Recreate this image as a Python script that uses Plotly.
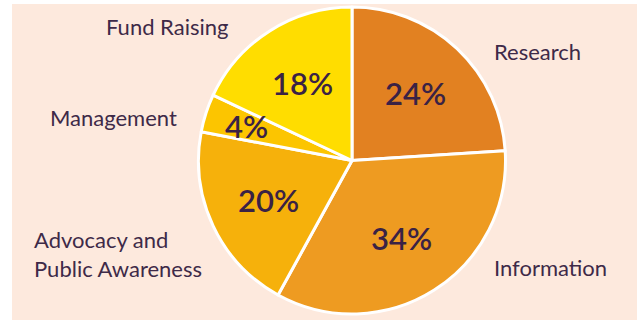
import math
import plotly.graph_objects as go

categories = ["Research", "Information", "Advocacy and<br>Public Awareness", "Management", "Fund Raising"]
values = [24, 34, 20, 4, 18]
colors = ["#E28121", "#EE9B21", "#F6B10B", "#FCC500", "#FFDD00"]

W, H = 637, 320
BG = "#FDE9DD"
TXT = "#3E2A48"

# pie geometry (pixels)
PX0, PX1, PY0, PY1 = 197, 507, 7, 314
CX, CY = (PX0 + PX1) / 2, (PY0 + PY1) / 2
R = (PY1 - PY0) / 2

fig = go.Figure()
fig.add_trace(go.Pie(
    labels=categories,
    values=values,
    sort=False,
    direction="clockwise",
    rotation=0,
    marker=dict(colors=colors, line=dict(color="white", width=3)),
    textinfo="none",
    hoverinfo="label+percent",
    showlegend=False,
    domain=dict(x=[PX0 / W, PX1 / W], y=[1 - PY1 / H, 1 - PY0 / H]),
))

# percentage labels placed at each slice's mid-angle
radius_frac = [0.6, 0.6, 0.6, 0.72, 0.6]
total = sum(values)
cum = 0
for v, f in zip(values, radius_frac):
    mid = (cum + v / 2) / total * 2 * math.pi
    cum += v
    px = CX + R * f * math.sin(mid)
    py = CY - R * f * math.cos(mid)
    fig.add_annotation(
        x=px / W, y=1 - py / H, xref="paper", yref="paper",
        text=f"{v}%", showarrow=False, xanchor="center", yanchor="middle",
        font=dict(family="Lato, Liberation Sans, sans-serif", size=31, color="#3A2245", weight=600),
    )

# category label placements (pixel positions in the panel)
label_pos = {
    "Research": (492, 51),
    "Information": (492, 267),
    "Advocacy and<br>Public Awareness": (32, 254),
    "Management": (48, 117),
    "Fund Raising": (104, 27),
}
for cat in categories:
    px, py = label_pos[cat]
    fig.add_annotation(
        x=px / W, y=1 - py / H, xref="paper", yref="paper",
        text=cat, showarrow=False, xanchor="left", yanchor="middle", align="left",
        font=dict(family="Lato, sans-serif", size=22, color=TXT),
    )

fig.update_layout(
    width=W, height=H,
    margin=dict(l=0, r=0, t=0, b=0),
    paper_bgcolor=BG,
    shapes=[
        dict(type="rect", xref="paper", yref="paper", x0=0, x1=12 / W, y0=0, y1=1,
             fillcolor="white", line=dict(width=0), layer="below"),
        dict(type="rect", xref="paper", yref="paper", x0=0, x1=1, y0=1 - 4 / H, y1=1,
             fillcolor="white", line=dict(width=0), layer="below"),
    ],
)

fig.write_html("out.html")
